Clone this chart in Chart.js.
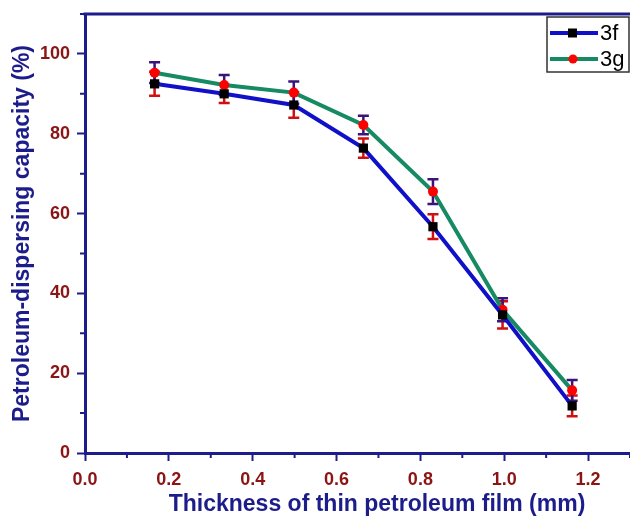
<!DOCTYPE html>
<html>
<head>
<meta charset="utf-8">
<script src="https://cdn.jsdelivr.net/npm/chart.js@4.4.1/dist/chart.umd.min.js"></script>
<style>
  html, body { margin: 0; padding: 0; background: #fff; }
  #wrap { width: 630px; height: 521px; }
</style>
</head>
<body>
<div id="wrap"><canvas id="chart"></canvas></div>
<script>
// film thickness (mm)
const thickness = [0.166, 0.332, 0.498, 0.664, 0.83, 0.996, 1.162];
// petroleum-dispersing capacity (%)
const cap3f = [92.5, 90.0, 87.2, 76.4, 56.7, 34.6, 11.8];
const cap3g = [95.3, 92.2, 90.3, 82.2, 65.5, 35.9, 15.7];
const err3f = [3.0, 2.3, 3.2, 2.4, 3.1, 3.4, 2.6];
const err3g = [2.6, 2.5, 2.8, 2.3, 3.1, 2.9, 2.6];
const seriesNames = ['3f', '3g'];

const navy = '#1c1c8a';
const tickRed = '#8b1414';
const blue = '#1010c8';
const green = '#168a62';

const errorBars = {
  id: 'errorBars',
  beforeDatasetsDraw(chart) {
    const ctx = chart.ctx;
    const xs = chart.scales.x, ys = chart.scales.y;
    chart.data.datasets.forEach(ds => {
      ctx.save();
      ctx.strokeStyle = ds.errColor;
      ctx.lineWidth = 2.5;
      ds.data.forEach((p, i) => {
        const x = xs.getPixelForValue(p.x);
        const y1 = ys.getPixelForValue(p.y + ds.err[i]);
        const y2 = ys.getPixelForValue(p.y - ds.err[i]);
        ctx.beginPath();
        ctx.moveTo(x, y1); ctx.lineTo(x, y2);
        ctx.moveTo(x - 5.5, y1); ctx.lineTo(x + 5.5, y1);
        ctx.moveTo(x - 5.5, y2); ctx.lineTo(x + 5.5, y2);
        ctx.stroke();
      });
      ctx.restore();
    });
  },
  afterDraw(chart) {
    const ctx = chart.ctx;
    const a = chart.chartArea;
    const xs = chart.scales.x, ys = chart.scales.y;
    ctx.save();
    // top spine
    ctx.strokeStyle = navy;
    ctx.lineWidth = 3;
    ctx.beginPath();
    ctx.moveTo(a.left - 1.5, a.top); ctx.lineTo(a.right, a.top);
    ctx.stroke();
    // minor ticks
    ctx.lineWidth = 2;
    ctx.beginPath();
    xs.ticks.forEach(t => {
      if (Math.round(t.value * 10) % 2 === 1) {
        const x = xs.getPixelForValue(t.value);
        ctx.moveTo(x, a.bottom); ctx.lineTo(x, a.bottom + 5);
      }
    });
    ys.ticks.forEach(t => {
      if (Math.round(t.value) % 20 === 10) {
        const y = ys.getPixelForValue(t.value);
        ctx.moveTo(a.left, y); ctx.lineTo(a.left - 5, y);
      }
    });
    ctx.stroke();

    // axis titles
    ctx.fillStyle = navy;
    ctx.font = 'bold 23px Arial, "Liberation Sans", sans-serif';
    ctx.textAlign = 'center';
    ctx.textBaseline = 'middle';
    ctx.fillText('Thickness of thin petroleum film (mm)', 377, 505);
    ctx.save();
    ctx.translate(23, (a.top + a.bottom) / 2);
    ctx.rotate(-Math.PI / 2);
    ctx.fillText('Petroleum-dispersing capacity (%)', 0, 0);
    ctx.restore();

    // legend
    const lx = 547, ly = 17, lw = 82, lh = 55;
    ctx.fillStyle = '#fff';
    ctx.fillRect(lx, ly, lw, lh);
    ctx.strokeStyle = '#333';
    ctx.lineWidth = 1.5;
    ctx.strokeRect(lx, ly, lw, lh);
    const rows = [
      { name: seriesNames[0], color: blue, y: 33, marker: 'rect' },
      { name: seriesNames[1], color: green, y: 59, marker: 'circle' }
    ];
    rows.forEach(r => {
      ctx.strokeStyle = r.color;
      ctx.lineWidth = 4;
      ctx.beginPath();
      ctx.moveTo(550, r.y); ctx.lineTo(598, r.y);
      ctx.stroke();
      if (r.marker === 'rect') {
        ctx.fillStyle = '#000';
        ctx.fillRect(568, r.y - 4.5, 9, 9);
      } else {
        ctx.fillStyle = '#ff0000';
        ctx.beginPath();
        ctx.arc(573, r.y, 4.5, 0, Math.PI * 2);
        ctx.fill();
      }
      ctx.fillStyle = '#000';
      ctx.font = '22px Arial, "Liberation Sans", sans-serif';
      ctx.textAlign = 'left';
      ctx.textBaseline = 'middle';
      ctx.fillText(r.name, 600, r.y + 1);
    });
    ctx.restore();
  }
};

const toPts = vals => vals.map((v, i) => ({ x: thickness[i], y: v }));

new Chart(document.getElementById('chart').getContext('2d'), {
  type: 'line',
  data: {
    datasets: [
      {
        label: seriesNames[0],
        data: toPts(cap3f),
        err: err3f,
        errColor: '#d01010',
        borderColor: blue,
        borderWidth: 4,
        pointStyle: 'rect',
        pointRadius: 6.5,
        pointBackgroundColor: '#000',
        pointBorderColor: '#000',
        pointBorderWidth: 0,
        tension: 0
      },
      {
        label: seriesNames[1],
        data: toPts(cap3g),
        err: err3g,
        errColor: '#3a1478',
        borderColor: green,
        borderWidth: 4,
        pointStyle: 'circle',
        pointRadius: 5,
        pointBackgroundColor: '#ff0000',
        pointBorderColor: '#ff0000',
        pointBorderWidth: 0,
        tension: 0
      }
    ]
  },
  options: {
    responsive: true,
    maintainAspectRatio: false,
    animation: false,
    layout: { autoPadding: false, padding: { top: 14, right: 0, left: 0, bottom: 0 } },
    plugins: {
      legend: { display: false },
      tooltip: { enabled: false }
    },
    scales: {
      x: {
        type: 'linear',
        min: 0,
        max: 1.3,
        afterFit: s => { s.height = 68; s.paddingLeft = 0; s.paddingRight = 0; },
        border: { color: navy, width: 3 },
        grid: {
          drawOnChartArea: false,
          tickLength: 8,
          tickWidth: 2,
          tickColor: c => (Math.round(c.tick.value * 10) % 2 === 0 ? navy : 'rgba(0,0,0,0)')
        },
        ticks: {
          stepSize: 0.1,
          padding: 8,
          maxRotation: 0,
          autoSkip: false,
          color: tickRed,
          font: { family: 'Arial, "Liberation Sans", sans-serif', size: 18, weight: 'bold' },
          callback: v => {
            const n = Math.round(v * 10);
            return n % 2 === 0 && n <= 12 ? (n / 10).toFixed(1) : '';
          }
        }
      },
      y: {
        min: 0,
        max: 110,
        afterFit: s => { s.width = 85; s.paddingTop = 0; s.paddingBottom = 0; },
        border: { color: navy, width: 3 },
        grid: {
          drawOnChartArea: false,
          tickLength: 8,
          tickWidth: 2,
          tickColor: c => (Math.round(c.tick.value) % 20 === 0 ? navy : 'rgba(0,0,0,0)')
        },
        ticks: {
          stepSize: 10,
          padding: 7,
          autoSkip: false,
          color: tickRed,
          font: { family: 'Arial, "Liberation Sans", sans-serif', size: 18, weight: 'bold' },
          callback: v => (v % 20 === 0 && v <= 100 ? String(v) : '')
        }
      }
    }
  },
  plugins: [errorBars]
});
</script>
</body>
</html>
